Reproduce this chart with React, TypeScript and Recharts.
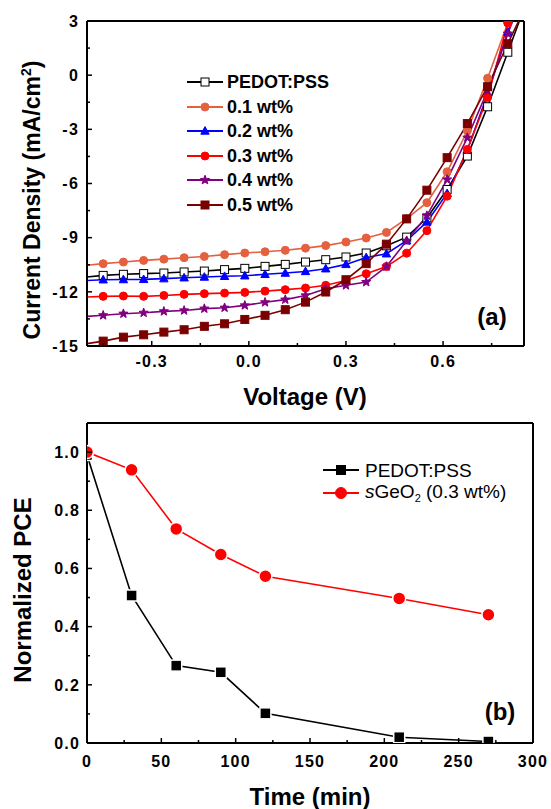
import React from "react"
import { LineChart, Line, XAxis, YAxis, ReferenceLine } from "recharts"

// ---- (a) J-V curves ----
// first value is where each curve meets the left border (-0.5 V), last is past the top border
const voltage = [-0.5, -0.45, -0.3875, -0.325, -0.2625, -0.2, -0.1375, -0.075, -0.0125, 0.05, 0.1125, 0.175, 0.2375, 0.3, 0.3625, 0.425, 0.4875, 0.55, 0.6125, 0.675, 0.7375, 0.8, 0.8625]
const pedotJ = [-11.18, -11.09, -11.03, -10.99, -10.96, -10.9, -10.85, -10.77, -10.7, -10.59, -10.48, -10.35, -10.22, -10.07, -9.85, -9.45, -8.97, -7.91, -6.33, -4.48, -1.75, 1.27, 4.3]
const wt01J = [-10.53, -10.44, -10.35, -10.26, -10.19, -10.11, -10.04, -9.94, -9.85, -9.78, -9.7, -9.58, -9.44, -9.24, -9.02, -8.71, -7.95, -7.06, -5.35, -3.09, -0.17, 2.89, 5.9]
const wt02J = [-11.37, -11.33, -11.32, -11.31, -11.27, -11.22, -11.18, -11.14, -11.11, -11.03, -10.96, -10.87, -10.72, -10.48, -10.1, -9.89, -9.17, -8.13, -6.55, -4.16, -1.04, 2.39, 5.2]
const wt03J = [-12.29, -12.25, -12.23, -12.25, -12.2, -12.14, -12.1, -12.07, -12.03, -11.96, -11.88, -11.79, -11.64, -11.37, -11.0, -10.6, -9.86, -8.61, -6.7, -4.11, -1.23, 2.89, 5.9]
const wt04J = [-13.36, -13.3, -13.21, -13.16, -13.08, -13.03, -12.93, -12.88, -12.75, -12.58, -12.43, -12.2, -11.83, -11.64, -11.46, -10.6, -9.17, -7.78, -5.78, -3.46, -0.86, 2.3, 5.2]
const wt05J = [-14.87, -14.73, -14.51, -14.38, -14.23, -14.1, -13.91, -13.77, -13.53, -13.3, -12.99, -12.57, -12.01, -11.33, -10.44, -9.36, -7.96, -6.37, -4.57, -2.68, -0.64, 1.74, 4.1]

const voltTicks = [-0.45, -0.3, -0.15, 0, 0.15, 0.3, 0.45, 0.6, 0.75]
const voltLabels = [-0.3, 0, 0.3, 0.6]
const jTicks = [-15, -13.5, -12, -10.5, -9, -7.5, -6, -4.5, -3, -1.5, 0, 1.5, 3]
const jLabels = [-15, -12, -9, -6, -3, 0, 3]

// ---- (b) stability ----
const time = [0, 30, 60, 90, 120, 210, 270]
const pedotPce = [0.99, 0.507, 0.266, 0.243, 0.102, 0.02, 0.005]
const sgeoPce = [1.0, 0.939, 0.736, 0.648, 0.573, 0.497, 0.441]

const timeTicks = [0, 25, 50, 75, 100, 125, 150, 175, 200, 225, 250, 275, 300]
const timeLabels = [0, 50, 100, 150, 200, 250, 300]
const pceTicks = [0, 0.1, 0.2, 0.3, 0.4, 0.5, 0.6, 0.7, 0.8, 0.9, 1.0]
const pceLabels = [0, 0.2, 0.4, 0.6, 0.8, 1.0]

const FONT = '"Liberation Sans", Arial, sans-serif'

const jvSeries = [
  { key: "pedot", name: "PEDOT:PSS", color: "#000000", fill: "#ffffff", shape: "square", values: pedotJ },
  { key: "wt01", name: "0.1 wt%", color: "#e4603f", fill: "#e4603f", shape: "circle", values: wt01J },
  { key: "wt02", name: "0.2 wt%", color: "#0000ff", fill: "#0000ff", shape: "triangle", values: wt02J },
  { key: "wt03", name: "0.3 wt%", color: "#ff0000", fill: "#ff0000", shape: "circle", values: wt03J },
  { key: "wt04", name: "0.4 wt%", color: "#800080", fill: "#800080", shape: "star", values: wt04J },
  { key: "wt05", name: "0.5 wt%", color: "#7a0000", fill: "#7a0000", shape: "square", values: wt05J },
]

const jvData = voltage.map((v, i) => {
  const row: any = { v }
  jvSeries.forEach(s => { row[s.key] = s.values[i] })
  return row
})

const pceData = time.map((t, i) => ({ t, pedot: pedotPce[i], sgeo: sgeoPce[i] }))

function Marker({ cx, cy, shape, size, fill, stroke, strokeWidth = 1 }: any) {
  const h = size / 2
  if (shape === "square")
    return <rect x={cx - h} y={cy - h} width={size} height={size} fill={fill} stroke={stroke} strokeWidth={strokeWidth} />
  if (shape === "circle")
    return <circle cx={cx} cy={cy} r={h} fill={fill} stroke={stroke} strokeWidth={strokeWidth} />
  if (shape === "triangle") {
    const pts = `${cx},${cy - h * 1.1} ${cx - h * 1.05},${cy + h * 0.8} ${cx + h * 1.05},${cy + h * 0.8}`
    return <polygon points={pts} fill={fill} stroke={stroke} strokeWidth={strokeWidth} />
  }
  // star
  const pts: string[] = []
  for (let i = 0; i < 10; i++) {
    const r = i % 2 === 0 ? h * 1.2 : h * 0.5
    const a = ((-90 + i * 36) * Math.PI) / 180
    pts.push(`${cx + r * Math.cos(a)},${cy + r * Math.sin(a)}`)
  }
  return <polygon points={pts.join(" ")} fill={fill} stroke={stroke} strokeWidth={strokeWidth} />
}

const isMajor = (list: number[], v: number) => list.some(m => Math.abs(m - v) < 1e-6)

function BottomTick({ x, y, payload, labels, fmt, gap, fontSize }: any) {
  const major = isMajor(labels, payload.value)
  return (
    <g>
      <line x1={x} x2={x} y1={y} y2={y - (major ? 5 : 3)} stroke="#000" strokeWidth={1.5} />
      {major && (
        <text x={x} y={y + gap} textAnchor="middle" fontFamily={FONT} fontWeight="bold" fontSize={fontSize} letterSpacing={1.2} fill="#000">
          {fmt(payload.value)}
        </text>
      )}
    </g>
  )
}

function LeftTick({ x, y, payload, labels, fmt, gap, fontSize }: any) {
  const major = isMajor(labels, payload.value)
  return (
    <g>
      <line x1={x} x2={x + (major ? 5 : 3)} y1={y} y2={y} stroke="#000" strokeWidth={1.5} />
      {major && (
        <text x={x - gap} y={y + fontSize * 0.36} textAnchor="end" fontFamily={FONT} fontWeight="bold" fontSize={fontSize} letterSpacing={1.2} fill="#000">
          {fmt(payload.value)}
        </text>
      )}
    </g>
  )
}

const abs = (left: number, top: number, extra: any = {}): any => ({
  position: "absolute", left, top, fontFamily: FONT, color: "#000", whiteSpace: "nowrap", ...extra,
})

function LegendRow({ top, left, color, fill, shape, size, children, textLeft, fontWeight, fontSize }: any) {
  return (
    <>
      <svg style={{ position: "absolute", left, top: top - 10 }} width={40} height={20}>
        <line x1={2} x2={38} y1={10} y2={10} stroke={color} strokeWidth={2} />
        <Marker cx={20} cy={10} shape={shape} size={size} fill={fill} stroke={color} />
      </svg>
      <div style={abs(textLeft, top, { transform: "translateY(-50%)", fontWeight, fontSize, lineHeight: 1 })}>{children}</div>
    </>
  )
}

const AX = 10 // axis band reserved inside the margins

export default function App() {
  const jvDot = (s: any) => (p: any) => {
    const { cx, cy, index } = p
    if (index === 0 || index === voltage.length - 1 || cx == null || cy == null) return <g key={`${s.key}-${index}`} />
    return (
      <g key={`${s.key}-${index}`}>
        <Marker cx={cx} cy={cy} shape={s.shape} size={8} fill={s.fill} stroke={s.color} strokeWidth={1} />
      </g>
    )
  }

  const pceSquare = (p: any) => (
    <g key={`sq-${p.index}`}>
      <Marker cx={p.cx} cy={p.cy} shape="square" size={11} fill="#000" stroke="#fff" strokeWidth={1.5} />
    </g>
  )
  const pceCircle = (p: any) => (
    <g key={`ci-${p.index}`}>
      <Marker cx={p.cx} cy={p.cy} shape="circle" size={13} fill="#ff0000" stroke="#fff" strokeWidth={1.5} />
    </g>
  )

  return (
    <div style={{ position: "absolute", left: 0, top: 0, width: 551, height: 809, background: "#fff", overflow: "hidden" }}>
      {/* (a) */}
      <div style={{ position: "absolute", left: 0, top: 0 }}>
        <LineChart width={551} height={410} data={jvData} margin={{ top: 21, right: 27, bottom: 64 - AX, left: 87 - AX }}>
          <XAxis
            dataKey="v"
            type="number"
            domain={[-0.5, 0.85]}
            ticks={voltTicks}
            interval={0}
            allowDataOverflow
            height={AX}
            tickSize={0}
            tickMargin={0}
            tickLine={false}
            axisLine={{ stroke: "#000", strokeWidth: 2 }}
            tick={(p: any) => <BottomTick {...p} labels={voltLabels} fmt={(v: number) => v.toFixed(1)} gap={21} fontSize={16} />}
          />
          <YAxis
            type="number"
            domain={[-15, 3]}
            ticks={jTicks}
            interval={0}
            allowDataOverflow
            width={AX}
            tickSize={0}
            tickMargin={0}
            tickLine={false}
            axisLine={{ stroke: "#000", strokeWidth: 2 }}
            tick={(p: any) => <LeftTick {...p} labels={jLabels} fmt={(v: number) => String(v)} gap={8} fontSize={16} />}
          />
          <ReferenceLine y={3} stroke="#000" strokeWidth={2} />
          <ReferenceLine x={0.85} stroke="#000" strokeWidth={2} />
          {jvSeries.map(s => (
            <Line
              key={s.key}
              type="linear"
              dataKey={s.key}
              stroke={s.color}
              strokeWidth={1.6}
              dot={jvDot(s)}
              activeDot={false}
              isAnimationActive={false}
            />
          ))}
        </LineChart>
      </div>

      {/* (b) */}
      <div style={{ position: "absolute", left: 0, top: 410 }}>
        <LineChart width={551} height={399} data={pceData} margin={{ top: 13, right: 18, bottom: 66 - AX, left: 87 - AX }}>
          <XAxis
            dataKey="t"
            type="number"
            domain={[0, 300]}
            ticks={timeTicks}
            interval={0}
            allowDataOverflow
            height={AX}
            tickSize={0}
            tickMargin={0}
            tickLine={false}
            axisLine={{ stroke: "#000", strokeWidth: 2 }}
            tick={(p: any) => <BottomTick {...p} labels={timeLabels} fmt={(v: number) => String(v)} gap={24} fontSize={16} />}
          />
          <YAxis
            type="number"
            domain={[0, 1.1]}
            ticks={pceTicks}
            interval={0}
            allowDataOverflow
            width={AX}
            tickSize={0}
            tickMargin={0}
            tickLine={false}
            axisLine={{ stroke: "#000", strokeWidth: 2 }}
            tick={(p: any) => <LeftTick {...p} labels={pceLabels} fmt={(v: number) => v.toFixed(1)} gap={7} fontSize={16} />}
          />
          <ReferenceLine y={1.1} stroke="#000" strokeWidth={2} />
          <ReferenceLine x={300} stroke="#000" strokeWidth={2} />
          <Line type="linear" dataKey="pedot" stroke="#000" strokeWidth={1.6} dot={pceSquare} activeDot={false} isAnimationActive={false} />
          <Line type="linear" dataKey="sgeo" stroke="#ff0000" strokeWidth={1.6} dot={pceCircle} activeDot={false} isAnimationActive={false} />
        </LineChart>
      </div>

      {/* axis titles and panel labels */}
      <div style={abs(32, 200, { transform: "translate(-50%, -50%) rotate(-90deg)", fontWeight: "bold", fontSize: 23 })}>
        Current Density (mA/cm<sup style={{ fontSize: 14 }}>2</sup>)
      </div>
      <div style={abs(305, 397, { transform: "translate(-50%, -50%)", fontWeight: "bold", fontSize: 24 })}>Voltage (V)</div>
      <div style={abs(492, 317, { transform: "translate(-50%, -50%)", fontWeight: "bold", fontSize: 24 })}>(a)</div>

      <div style={abs(23, 590, { transform: "translate(-50%, -50%) rotate(-90deg)", fontWeight: "bold", fontSize: 24 })}>Normalized PCE</div>
      <div style={abs(310, 797, { transform: "translate(-50%, -50%)", fontWeight: "bold", fontSize: 24 })}>Time (min)</div>
      <div style={abs(500, 712, { transform: "translate(-50%, -50%)", fontWeight: "bold", fontSize: 24 })}>(b)</div>

      {/* legend (a) */}
      {jvSeries.map((s, i) => (
        <LegendRow
          key={s.key}
          top={82 + i * 24.5}
          left={185}
          textLeft={227}
          color={s.color}
          fill={s.fill}
          shape={s.shape}
          size={8}
          fontWeight="bold"
          fontSize={18}
        >
          {s.name}
        </LegendRow>
      ))}

      {/* legend (b) */}
      <LegendRow top={470} left={321} textLeft={365} color="#000" fill="#000" shape="square" size={9} fontWeight="normal" fontSize={19}>
        PEDOT:PSS
      </LegendRow>
      <LegendRow top={493} left={321} textLeft={365} color="#ff0000" fill="#ff0000" shape="circle" size={11} fontWeight="normal" fontSize={19}>
        <i>s</i>GeO<sub style={{ fontSize: 11 }}>2</sub> (0.3 wt%)
      </LegendRow>
    </div>
  )
}
